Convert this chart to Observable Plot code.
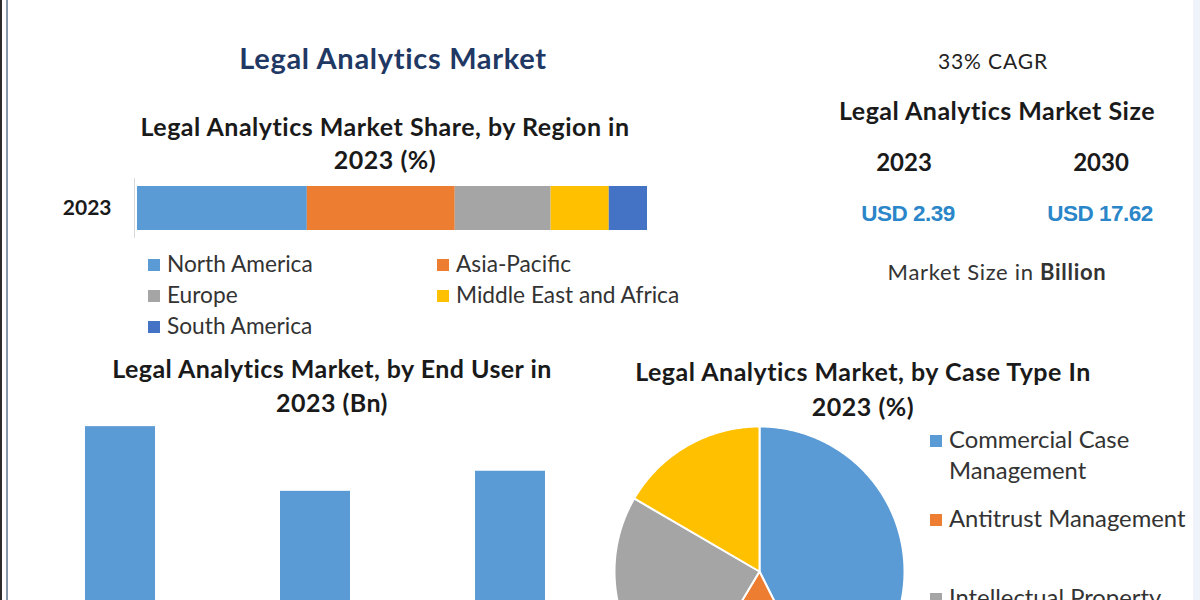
<!DOCTYPE html>
<html><head><meta charset="utf-8">
<script src="https://cdn.jsdelivr.net/npm/d3@7"></script>
<script src="https://cdn.jsdelivr.net/npm/@observablehq/plot@0.6"></script>
<style>
html,body{margin:0;padding:0;width:1200px;height:600px;overflow:hidden;background:#fff;font-family:Lato,"Open Sans",sans-serif;}
#root{position:relative;width:1200px;height:600px;overflow:hidden;background:#fff;}
.t{position:absolute;transform:translate(-50%,-50%);white-space:nowrap;line-height:1;color:#1a1a1a;}
.abs{position:absolute;}
.lg{position:absolute;display:flex;align-items:flex-start;color:#333;line-height:31px;}
.sw{display:inline-block;flex:none;}
</style></head><body><div id="root"></div>
<script>
// ---------- data ----------
const mainTitle = "Legal Analytics Market";
const regionTitle = ["Legal Analytics Market Share, by Region in", "2023 (%)"];
const regionYear = ["2023"];
const regions = ["North America", "Asia-Pacific", "Europe", "Middle East and Africa", "South America"];
const regionShare = [33.3, 29.0, 18.8, 11.4, 7.5];
const regionColors = ["#5b9bd5", "#ed7d31", "#a5a5a5", "#ffc000", "#4472c4"];

const cagrText = "33% CAGR";
const sizeTitle = "Legal Analytics Market Size";
const sizeYears = ["2023", "2030"];
const sizeValues = ["USD 2.39", "USD 17.62"];
const sizeUnit = ["Market Size in ", "Billion"];

const endUserTitle = ["Legal Analytics Market, by End User in", "2023 (Bn)"];
const endUsers = ["Law Firms", "Corporate Legal Departments", "Others"];
const endUserValues = [0.95, 0.66, 0.75];
const endUserColor = "#5b9bd5";

const caseTitle = ["Legal Analytics Market, by Case Type In", "2023 (%)"];
const caseTypes = ["Commercial Case Management", "Antitrust Management", "Intellectual Property", "Others"];
const caseShare = [42.6, 16.0, 24.8, 16.6];
const caseColors = ["#5b9bd5", "#ed7d31", "#a5a5a5", "#ffc000"];

// ---------- helpers ----------
const root = document.getElementById("root");
function txt(html, cx, cy, style) {
  const d = document.createElement("div");
  d.className = "t";
  d.innerHTML = html;
  d.style.left = cx + "px";
  d.style.top = cy + "px";
  Object.assign(d.style, style || {});
  root.appendChild(d);
  return d;
}
function place(el, left, top) {
  el.style.position = "absolute";
  el.style.left = left + "px";
  el.style.top = top + "px";
  root.appendChild(el);
}
function legendItem(label, color, left, top, maxW, fs, sq) {
  const d = document.createElement("div");
  d.className = "lg";
  d.style.left = left + "px";
  d.style.top = top + "px";
  d.style.fontSize = fs + "px";
  const s = document.createElement("span");
  s.className = "sw";
  s.style.width = sq + "px"; s.style.height = sq + "px";
  s.style.background = color;
  s.style.marginTop = ((31 - sq) / 2 + 1) + "px";
  s.style.marginRight = "7px";
  const t = document.createElement("span");
  t.textContent = label;
  if (maxW) { t.style.whiteSpace = "normal"; t.style.maxWidth = maxW + "px"; } else t.style.whiteSpace = "nowrap";
  d.appendChild(s); d.appendChild(t);
  root.appendChild(d);
}

// ---------- borders ----------
const b1 = document.createElement("div"); b1.className = "abs";
Object.assign(b1.style, {left: "0px", top: "0px", width: "2px", height: "600px", background: "#2b2b2b"});
root.appendChild(b1);
const b2 = document.createElement("div"); b2.className = "abs";
Object.assign(b2.style, {left: "6px", top: "0px", width: "2px", height: "600px", background: "#8597aa"});
root.appendChild(b2);
const b3 = document.createElement("div"); b3.className = "abs";
Object.assign(b3.style, {left: "1193px", top: "0px", width: "7px", height: "600px", background: "#eef4fa"});
root.appendChild(b3);

// ---------- titles / texts ----------
const H = {fontSize: "25px", fontWeight: "700", letterSpacing: "0.5px"};
txt(mainTitle, 393, 57, {fontSize: "29px", fontWeight: "700", color: "#1f3864", letterSpacing: "0.7px"});
txt(regionTitle[0], 385, 126, H);
txt(regionTitle[1], 385, 159, H);

txt(cagrText, 993, 60, {fontSize: "21px", color: "#222", letterSpacing: "0.9px"});
txt(sizeTitle, 997, 110, H);
txt(sizeYears[0], 904, 162, {fontSize: "24px", fontWeight: "700"});
txt(sizeYears[1], 1101, 162, {fontSize: "24px", fontWeight: "700"});
const USD = {fontFamily: "'Liberation Sans', Arial, sans-serif", fontSize: "22.5px", fontWeight: "700", color: "#2a86c8", letterSpacing: "-0.5px"};
txt(sizeValues[0], 908, 214, USD);
txt(sizeValues[1], 1100, 214, USD);
txt(sizeUnit[0] + "<b>" + sizeUnit[1] + "</b>", 997, 272, {fontSize: "22px", color: "#333", letterSpacing: "0.7px"});

txt(endUserTitle[0], 332, 368, {fontSize: "25px", fontWeight: "700", letterSpacing: "0.45px"});
txt(endUserTitle[1], 332, 402, {fontSize: "25px", fontWeight: "700", letterSpacing: "0.45px"});
txt(caseTitle[0], 863, 371, H);
txt(caseTitle[1], 863, 406, H);

// ---------- stacked region bar ----------
const regionData = regions.map((r, i) => ({year: regionYear[0], region: r, share: regionShare[i]}));
const regionPlot = Plot.plot({
  width: 700, height: 80,
  marginLeft: 137, marginRight: 53, marginTop: 8, marginBottom: 12,
  x: {domain: [0, d3.sum(regionShare)], axis: null},
  y: {domain: regionYear, padding: 0, axis: null},
  color: {domain: regions, range: regionColors},
  style: {fontFamily: "Lato, sans-serif", background: "transparent", overflow: "visible"},
  marks: [
    Plot.ruleX([0], {stroke: "#d9d9d9", dx: -3}),
    Plot.barX(regionData, Plot.stackX({x: "share", y: "year", fill: "region", insetTop: 8, insetBottom: 8})),
    Plot.axisY({tickSize: 0, tickPadding: 26, fontSize: 21, label: null, fill: "#1a1a1a", fontWeight: 700})
  ]
});
place(regionPlot, 0, 170);

// region legend (2 columns, row-major)
const regLegPos = [[148, 248], [437, 248], [148, 279], [437, 279], [148, 310]];
regions.forEach((r, i) => legendItem(r, regionColors[i], regLegPos[i][0], regLegPos[i][1], null, 22.7, 12));

// ---------- end-user bars ----------
const endUserData = endUsers.map((u, i) => ({user: u, value: endUserValues[i]}));
const euPlot = Plot.plot({
  width: 600, height: 260,
  marginLeft: 85, marginRight: 55, marginTop: 0, marginBottom: 37,
  x: {domain: endUsers, paddingInner: 0.643, paddingOuter: 0, axis: null},
  y: {domain: [0, 1], axis: null},
  style: {background: "transparent"},
  marks: [Plot.barY(endUserData, {x: "user", y: "value", fill: endUserColor})]
});
place(euPlot, 0, 415);

// ---------- case-type pie ----------
const arcs = d3.pie().sort(null).value(d => d)(caseShare);
function ring(a0, a1) {
  const pts = [[0, 0]];
  const n = Math.max(2, Math.ceil((a1 - a0) / 0.01));
  for (let i = 0; i <= n; i++) {
    const a = a0 + (a1 - a0) * i / n;
    pts.push([Math.sin(a), Math.cos(a)]);
  }
  pts.push([0, 0]);
  return pts;
}
const slices = arcs.map((a, i) => ({
  type: "Feature",
  properties: {name: caseTypes[i], share: caseShare[i]},
  geometry: {type: "Polygon", coordinates: [ring(a.startAngle, a.endAngle)]}
}));
const outline = {type: "Polygon", coordinates: [ring(0, 2 * Math.PI).slice(1, -1)]};
const R = 145;
const piePlot = Plot.plot({
  width: 2 * R + 4, height: 2 * R + 4, margin: 2,
  projection: {type: "reflect-y", domain: outline},
  color: {domain: caseTypes, range: caseColors},
  style: {background: "transparent", overflow: "visible"},
  marks: [Plot.geo(slices, {fill: d => d.properties.name, stroke: "white", strokeWidth: 2})]
});
place(piePlot, 759 - R - 2, 571 - R - 2);

// pie legend
const pieLegTops = [424, 503, 582, 661];
caseTypes.forEach((c, i) => legendItem(c, caseColors[i], 930, pieLegTops[i], 252, 23.8, 12));
</script></body></html>
